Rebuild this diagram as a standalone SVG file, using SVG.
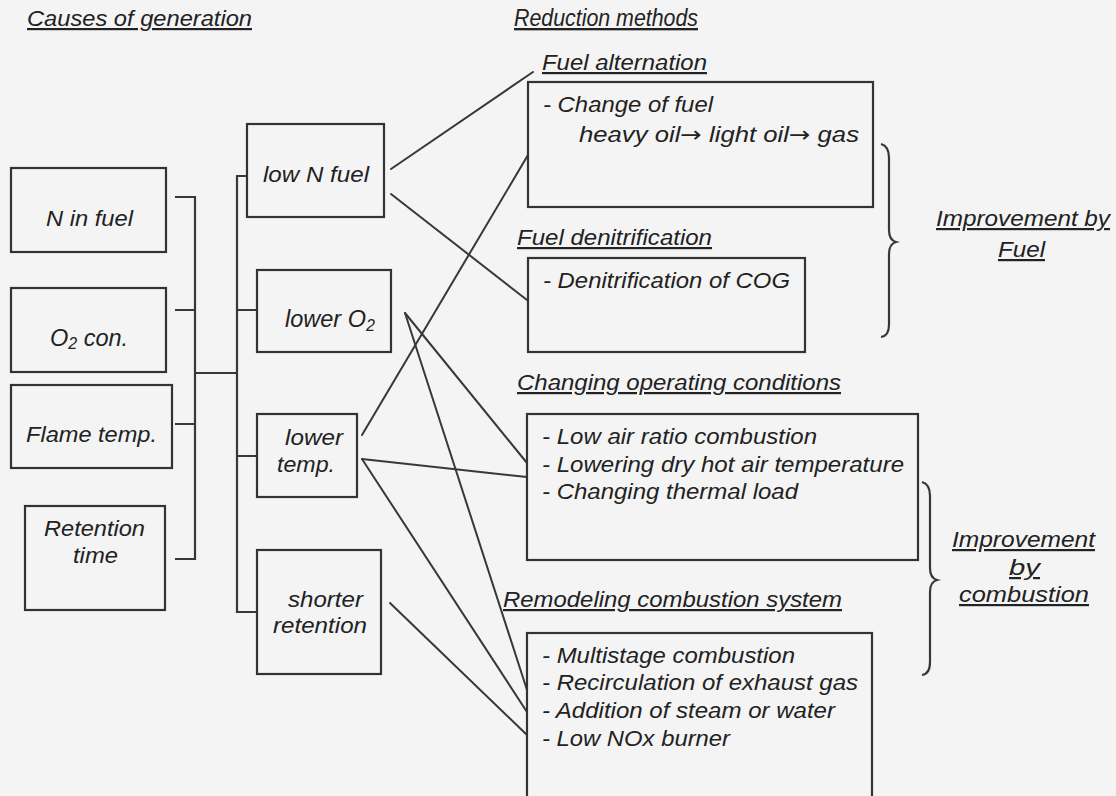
<svg xmlns="http://www.w3.org/2000/svg" width="1116" height="796" viewBox="0 0 1116 796">
<style>
text{font-family:"Liberation Sans",Arial,sans-serif;font-style:italic;font-size:22px;fill:#222}
.u{text-decoration:underline}
.box{fill:none;stroke:#333;stroke-width:2.2}
.ln{fill:none;stroke:#383838;stroke-width:2;stroke-linecap:round}
.br{fill:none;stroke:#383838;stroke-width:2.2;stroke-linejoin:miter}
.sub{font-size:16px}
.big{font-size:23.5px}
.arr{font-family:"DejaVu Sans",sans-serif;font-style:normal;font-size:22px}
</style>
<rect x="0" y="0" width="1116" height="796" fill="#f4f4f4"/>

<g id="headings">
<text x="27" y="26" class="u" textLength="225" lengthAdjust="spacingAndGlyphs">Causes of generation</text>
<text x="514" y="26" class="u big" textLength="184" lengthAdjust="spacingAndGlyphs">Reduction methods</text>
</g>

<g id="connectors">
<path class="br" d="M175,197 H195 V559 H175 M175,310 H195 M175,424 H195 M195,373 H237"/>
<path class="br" d="M247,176 H237 V612 H257 M237,310 H257 M237,456 H257"/>
<line class="ln" x1="391" y1="169" x2="533" y2="72"/>
<line class="ln" x1="391" y1="194" x2="527" y2="300"/>
<line class="ln" x1="362" y1="435" x2="528" y2="155"/>
<line class="ln" x1="362" y1="459" x2="527" y2="477"/>
<line class="ln" x1="362" y1="459" x2="527" y2="712"/>
<line class="ln" x1="405" y1="313" x2="527" y2="463"/>
<line class="ln" x1="405" y1="313" x2="527" y2="690"/>
<line class="ln" x1="390" y1="603" x2="527" y2="735"/>
<path class="br" d="M881,144 Q889,146 889,158 L889,230 Q889,240 896,242 Q889,244 889,254 L889,325 Q889,336 881,337"/>
<path class="br" d="M922,482 Q930,484 930,496 L930,568 Q930,578 937,580 Q930,582 930,592 L930,662 Q930,674 922,675"/>
</g>

<g id="n-in-fuel">
<rect class="box" x="11" y="168" width="155" height="84"/>
<text x="46" y="226" textLength="87" lengthAdjust="spacingAndGlyphs">N in fuel</text>
</g>
<g id="o2-con">
<rect class="box" x="11" y="288" width="155" height="84"/>
<text x="50" y="346" class="big">O<tspan class="sub" dy="3">2</tspan><tspan dy="-3"> con.</tspan></text>
</g>
<g id="flame-temp">
<rect class="box" x="11" y="385" width="161" height="83"/>
<text x="26" y="442" textLength="131" lengthAdjust="spacingAndGlyphs">Flame temp.</text>
</g>
<g id="retention-time">
<rect class="box" x="25" y="506" width="140" height="104"/>
<text x="44" y="536" textLength="101" lengthAdjust="spacingAndGlyphs">Retention</text>
<text x="73" y="563" textLength="45" lengthAdjust="spacingAndGlyphs">time</text>
</g>

<g id="low-n-fuel">
<rect class="box" x="247" y="124" width="137" height="93"/>
<text x="263" y="182" textLength="106" lengthAdjust="spacingAndGlyphs">low N fuel</text>
</g>
<g id="lower-o2">
<rect class="box" x="257" y="270" width="134" height="82"/>
<text x="285" y="327" class="big">lower O<tspan class="sub" dy="4">2</tspan></text>
</g>
<g id="lower-temp">
<rect class="box" x="257" y="414" width="100" height="83"/>
<text x="285" y="445" textLength="58" lengthAdjust="spacingAndGlyphs">lower</text>
<text x="277" y="472" textLength="58" lengthAdjust="spacingAndGlyphs">temp.</text>
</g>
<g id="shorter-retention">
<rect class="box" x="257" y="550" width="124" height="124"/>
<text x="288" y="607" textLength="75" lengthAdjust="spacingAndGlyphs">shorter</text>
<text x="273" y="633" textLength="94" lengthAdjust="spacingAndGlyphs">retention</text>
</g>

<g id="fuel-alternation">
<text x="542" y="70" class="u" textLength="165" lengthAdjust="spacingAndGlyphs">Fuel alternation</text>
<rect class="box" x="528" y="82" width="345" height="125"/>
<text x="543" y="112" textLength="170" lengthAdjust="spacingAndGlyphs">- Change of fuel</text>
<text x="579" y="142" textLength="280" lengthAdjust="spacingAndGlyphs">heavy oil<tspan class="arr">→</tspan> light oil<tspan class="arr">→</tspan> gas</text>
</g>
<g id="fuel-denitrification">
<text x="517" y="245" class="u" textLength="195" lengthAdjust="spacingAndGlyphs">Fuel denitrification</text>
<rect class="box" x="528" y="258" width="277" height="94"/>
<text x="543" y="288" textLength="247" lengthAdjust="spacingAndGlyphs">- Denitrification of COG</text>
</g>
<g id="changing-operating-conditions">
<text x="517" y="390" class="u" textLength="324" lengthAdjust="spacingAndGlyphs">Changing operating conditions</text>
<rect class="box" x="527" y="414" width="391" height="146"/>
<text x="542" y="444" textLength="275" lengthAdjust="spacingAndGlyphs">- Low air ratio combustion</text>
<text x="542" y="472" textLength="362" lengthAdjust="spacingAndGlyphs">- Lowering dry hot air temperature</text>
<text x="542" y="499" textLength="256" lengthAdjust="spacingAndGlyphs">- Changing thermal load</text>
</g>
<g id="remodeling-combustion-system">
<text x="503" y="607" class="u" textLength="339" lengthAdjust="spacingAndGlyphs">Remodeling combustion system</text>
<rect class="box" x="527" y="633" width="345" height="180"/>
<text x="542" y="663" textLength="253" lengthAdjust="spacingAndGlyphs">- Multistage combustion</text>
<text x="542" y="690" textLength="316" lengthAdjust="spacingAndGlyphs">- Recirculation of exhaust gas</text>
<text x="542" y="718" textLength="293" lengthAdjust="spacingAndGlyphs">- Addition of steam or water</text>
<text x="542" y="746" textLength="188" lengthAdjust="spacingAndGlyphs">- Low NOx burner</text>
</g>

<g id="improvement-by-fuel">
<text x="936" y="226" class="u" textLength="174" lengthAdjust="spacingAndGlyphs">Improvement by</text>
<text x="998" y="257" class="u" textLength="47" lengthAdjust="spacingAndGlyphs">Fuel</text>
</g>
<g id="improvement-by-combustion">
<text x="952" y="547" class="u" textLength="143" lengthAdjust="spacingAndGlyphs">Improvement</text>
<text x="1009" y="575" class="u" textLength="31" lengthAdjust="spacingAndGlyphs">by</text>
<text x="959" y="602" class="u" textLength="130" lengthAdjust="spacingAndGlyphs">combustion</text>
</g>
</svg>
